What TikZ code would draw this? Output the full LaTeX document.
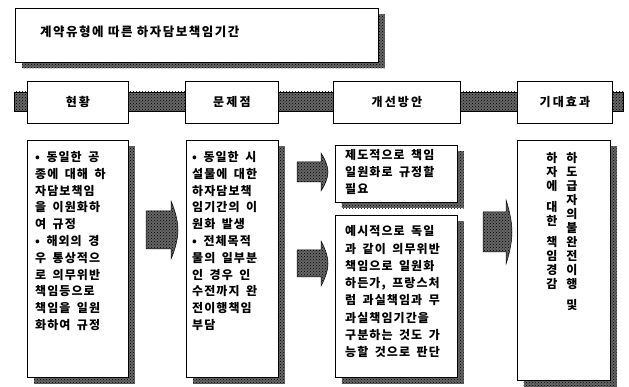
\documentclass[tikz,border=0pt]{standalone}
\usepackage{fontspec}
\setmainfont{Noto Sans CJK KR}
\newfontfamily\bodyfont{Noto Sans CJK KR}[LetterSpace=9,WordSpace=1.7]
\newfontfamily\headfont{Noto Sans CJK KR}[LetterSpace=18]
\newfontfamily\titlefont{Noto Sans CJK KR}[LetterSpace=12]
\usetikzlibrary{patterns,calc}
\tikzset{
  hatch/.style={preaction={fill=black!60}, pattern=crosshatch dots, pattern color=black},
  whitebox/.style={draw=black, line width=0.8pt, fill=white, inner sep=0pt, anchor=north west},
  txt/.style={font=\bodyfont\fontsize{12}{14}\selectfont\bfseries, inner sep=0pt, anchor=base west},
  vtxt/.style={font=\fontsize{12}{14}\selectfont\bfseries, inner sep=0pt},
  head/.style={font=\headfont\fontsize{12}{14}\selectfont\bfseries, inner sep=0pt},
  ttl/.style={font=\titlefont\fontsize{12.5}{14}\selectfont\bfseries, inner sep=0pt, anchor=west},
  arrowshape/.style={hatch, draw=black, line width=0.5pt},
}
% shadowed box: name, x, y, width, height
\newcommand\mkbox[5]{%
  \path[hatch] ({#2+6.5},{#3+6.5}) rectangle ++(#4,#5);
  \node[whitebox, minimum width=#4pt, minimum height=#5pt] (#1) at (#2,#3) {};}
% plain header box
\newcommand\hdbox[5]{%
  \node[whitebox, minimum width=#4pt, minimum height=#5pt] (#1) at (#2,#3) {};}
% block arrow: x-left, x-body-end, x-tip, y-top, y-bottom, spike
\newcommand\blockarr[6]{%
  \path[arrowshape] (#1,#4) -- (#2,#4) -- (#2,{#4-#6})
    .. controls ({#2+0.45*(#3-#2)},{#4-#6+0.25*((#5-#4)/2+#6)}) and (#3,{(#4+#5)/2-0.35*((#5-#4)/2+#6)}) .. (#3,{(#4+#5)/2})
    .. controls (#3,{(#4+#5)/2+0.35*((#5-#4)/2+#6)}) and ({#2+0.45*(#3-#2)},{#5+#6-0.25*((#5-#4)/2+#6)}) .. (#2,{#5+#6})
    -- (#2,#5) -- (#1,#5) -- cycle;}
% lines of text: prefix, x, first baseline, pitch, list
\newcommand\txtlines[5]{%
  \foreach \t [count=\i] in {#5} {\node[txt] (#1\i) at (#2,{#3+(\i-1)*#4}) {\t};}}
% vertical text: prefix, x, y0, pitch, list of char/pos
\newcommand\vlines[5]{%
  \foreach \c/\p [count=\i] in {#5} {\node[vtxt] (#1\i) at (#2,{#3+\p*#4}) {\c};}}
\begin{document}
\begin{tikzpicture}[x=1pt,y=-1pt]
\useasboundingbox (0,0) rectangle (629,387);
\fill[white] (0,0) rectangle (629,387);

% title
\mkbox{title}{15}{8}{363}{54}
\node[ttl] (titletext) at (40,32) {계약유형에 따른 하자담보책임기간};

% header band
\path[hatch, draw=black, line width=0.6pt] (14,92) rectangle (623,111);
\hdbox{h1}{27}{81}{101}{42}
\hdbox{h2}{185}{81}{93}{42}
\hdbox{h3}{333}{81}{127}{42}
\hdbox{h4}{517}{81}{95}{42}
\node[head] (h1t) at (h1.center) {현황};
\node[head] (h2t) at (h2.center) {문제점};
\node[head] (h3t) at (h3.center) {개선방안};
\node[head] (h4t) at (h4.center) {기대효과};

% content boxes
\mkbox{c1}{27}{140}{101}{237}
\mkbox{c2}{186}{140}{92}{237}
\mkbox{c3}{335}{145}{122}{57}
\mkbox{c4}{335}{215}{122}{162}
\mkbox{c5}{517}{140}{93}{240}

% arrows
\blockarr{146}{171}{178}{211}{249}{10}
\blockarr{297}{321}{328}{162}{182}{9}
\blockarr{297}{321}{328}{250}{277}{9}
\blockarr{483}{506}{512}{212}{252}{12}

% texts
\txtlines{a}{35}{161.5}{16.8}{• 동일한 공, 종에 대해 하, 자담보책임, 을 이원화하, 여 규정, • 해외의 경, 우 통상적으, 로 의무위반, 책임등으로, 책임을 일원, 화하여 규정}
\txtlines{b}{192}{161.5}{16.8}{• 동일한 시, 설물에 대한, 하자담보책, 임기간의 이, 원화 발생, • 전체목적, 물의 일부분, 인 경우 인, 수전까지 완, 전이행책임, 부담}
\txtlines{c}{345}{159.5}{17.2}{제도적으로 책임, 일원화로 규정할, 필요}
\txtlines{d}{345}{236}{17.2}{예시적으로 독일, 과 같이 의무위반, 책임으로 일원화, {하든가, 프랑스처}, 럼 과실책임과 무, 과실책임기간을, 구분하는 것도 가, 능할 것으로 판단}
\vlines{e}{572}{158}{14}{하/0,도/1,급/2,자/3,의/4,불/5,완/6,전/7,이/8,행/9,및/10.5}
\vlines{f}{552}{158}{14}{하/0,자/1,에/2,대/3.5,한/4.5,책/6,임/7,경/8,감/9}
\end{tikzpicture}
\end{document}
